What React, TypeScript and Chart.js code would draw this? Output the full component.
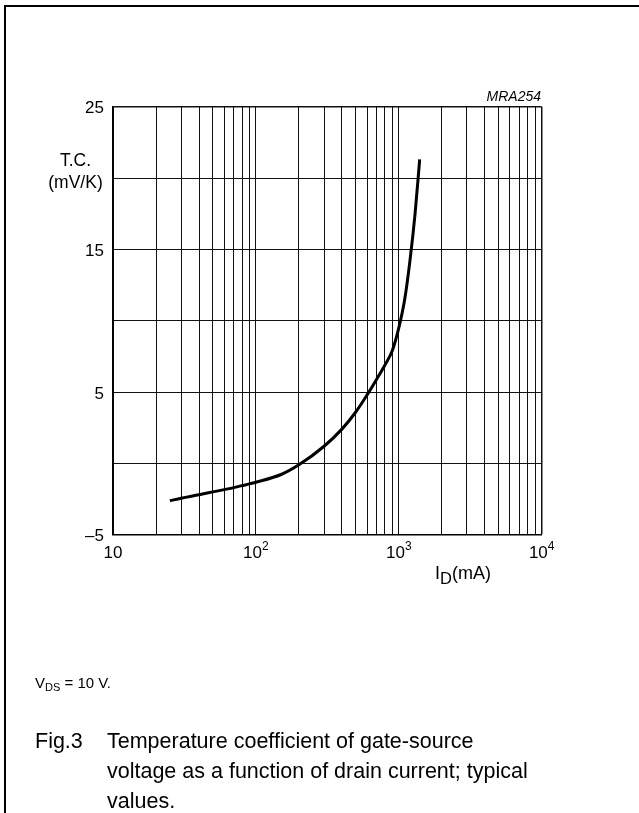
import React, { useEffect, useRef } from "react";
import { Chart, registerables } from "chart.js";

Chart.register(...registerables);

// Drain current (mA) and temperature coefficient (mV/K)
const CURRENT_MA = [25, 30, 40, 50, 60, 70, 80, 90, 100, 150, 200, 300, 400, 500, 600, 700, 800, 900, 1000, 1100, 1200, 1300, 1400];
const TC_MV_PER_K = [-2.62, -2.44, -2.2, -2.0, -1.84, -1.7, -1.56, -1.44, -1.32, -0.78, -0.1, 1.2, 2.4, 3.6, 4.8, 5.9, 6.9, 7.9, 9.5, 11.5, 14.3, 17.5, 21.3];

// Grid / tick values
const X_GRID = [10, 20, 30, 40, 50, 60, 70, 80, 90, 100, 200, 300, 400, 500, 600, 700, 800, 900, 1000, 2000, 3000, 4000, 5000, 6000, 7000, 8000, 9000, 10000];
const X_LABEL_VALUES = [10, 100, 1000, 10000];
const X_LABEL_BASES = ["10", "10", "10", "10"];
const X_LABEL_EXPONENTS = ["", "2", "3", "4"];
const Y_GRID = [-5, 0, 5, 10, 15, 20, 25];
const Y_LABEL_VALUES = [-5, 5, 15, 25];
const Y_LABEL_TEXT = ["\u20135", "5", "15", "25"];

const FONT = '"Liberation Sans", Arial, Helvetica, sans-serif';

const xLabelPlugin = {
  id: "xSuperscriptLabels",
  afterDraw(chart: any) {
    const ctx = chart.ctx;
    const xs = chart.scales.x;
    const bottom = chart.chartArea.bottom;
    ctx.save();
    ctx.fillStyle = "#000";
    ctx.textBaseline = "alphabetic";
    ctx.textAlign = "left";
    X_LABEL_VALUES.forEach((v, i) => {
      const px = xs.getPixelForValue(v);
      const base = X_LABEL_BASES[i];
      const exp = X_LABEL_EXPONENTS[i];
      ctx.font = `17px ${FONT}`;
      const bw = ctx.measureText(base).width;
      ctx.font = `12px ${FONT}`;
      const ew = exp ? ctx.measureText(exp).width : 0;
      const left = px - (bw + ew) / 2;
      ctx.font = `17px ${FONT}`;
      ctx.fillText(base, left, bottom + 23.5);
      if (exp) {
        ctx.font = `12px ${FONT}`;
        ctx.fillText(exp, left + bw, bottom + 15.5);
      }
    });
    ctx.restore();
  },
};

export default function App() {
  const canvasRef = useRef<HTMLCanvasElement | null>(null);

  useEffect(() => {
    if (!canvasRef.current) return;
    const points = CURRENT_MA.map((x, i) => ({ x, y: TC_MV_PER_K[i] }));
    const chart = new Chart(canvasRef.current, {
      type: "scatter",
      data: {
        datasets: [
          {
            data: points,
            showLine: true,
            borderColor: "#000",
            backgroundColor: "#000",
            borderWidth: 3,
            pointRadius: 0,
            cubicInterpolationMode: "monotone",
          } as any,
        ],
      },
      options: {
        responsive: false,
        animation: false,
        events: [],
        layout: { padding: { left: 0, top: 106.7, right: 97.3, bottom: 178.3 } },
        plugins: {
          legend: { display: false },
          tooltip: { enabled: false },
          title: { display: false },
        },
        scales: {
          x: {
            type: "logarithmic",
            min: 10,
            max: 10000,
            afterBuildTicks: (scale: any) => {
              scale.ticks = X_GRID.map((v) => ({ value: v }));
            },
            afterFit: (scale: any) => {
              scale.height = 100;
            },
            ticks: { display: false },
            grid: {
              color: "#111",
              lineWidth: (c: any) => (c.tick && c.tick.value === 10000 ? 1.5 : 1),
              drawTicks: false,
            },
            border: { display: true, color: "#000", width: 1.5 },
          },
          y: {
            type: "linear",
            min: -5,
            max: 25,
            afterBuildTicks: (scale: any) => {
              scale.ticks = Y_GRID.map((v) => ({ value: v }));
            },
            afterFit: (scale: any) => {
              scale.width = 113;
            },
            ticks: {
              padding: 9,
              labelOffset: 2,
              color: "#000",
              font: { family: FONT, size: 17 },
              callback: (value: any) => {
                const idx = Y_LABEL_VALUES.indexOf(Number(value));
                return idx >= 0 ? Y_LABEL_TEXT[idx] : "";
              },
            },
            grid: {
              color: "#111",
              lineWidth: (c: any) => (c.tick && c.tick.value === 25 ? 1.5 : 1),
              drawTicks: false,
            },
            border: { display: true, color: "#000", width: 1.5 },
          },
        },
      },
      plugins: [xLabelPlugin],
    } as any);
    return () => chart.destroy();
  }, []);

  return (
    <div
      style={{
        position: "absolute",
        left: 0,
        top: 0,
        width: 639,
        height: 813,
        background: "#fff",
        overflow: "hidden",
        fontFamily: FONT,
        color: "#000",
      }}
    >
      <div
        style={{
          position: "absolute",
          left: 4,
          top: 5,
          width: 640,
          height: 820,
          borderTop: "2px solid #000",
          borderLeft: "2px solid #000",
        }}
      />
      <canvas ref={canvasRef} width={639} height={813} style={{ position: "absolute", left: 0, top: 0 }} />
      <div
        style={{
          position: "absolute",
          right: 98,
          top: 88,
          fontSize: 14,
          lineHeight: "17px",
          fontStyle: "italic",
        }}
      >
        MRA254
      </div>
      <div
        style={{
          position: "absolute",
          left: 25,
          width: 101,
          top: 149,
          fontSize: 17.5,
          lineHeight: "22px",
          textAlign: "center",
        }}
      >
        T.C.
        <br />
        (mV/K)
      </div>
      <div style={{ position: "absolute", left: 435, top: 562, fontSize: 18, lineHeight: "22px", whiteSpace: "nowrap" }}>
        I<span style={{ position: "relative", top: 5, fontSize: 16.5 }}>D</span>(mA)
      </div>
      <div style={{ position: "absolute", left: 35, top: 673, fontSize: 15, lineHeight: "20px", whiteSpace: "nowrap" }}>
        V<span style={{ position: "relative", top: 3, fontSize: 11 }}>DS</span> = 10 V.
      </div>
      <div style={{ position: "absolute", left: 35, top: 726, width: 590, fontSize: 21.5, lineHeight: "30px" }}>
        <span style={{ position: "absolute", left: 0, top: 0 }}>Fig.3</span>
        <div style={{ marginLeft: 72 }}>
          Temperature coefficient of gate-source
          <br />
          voltage as a function of drain current; typical
          <br />
          values.
        </div>
      </div>
    </div>
  );
}
